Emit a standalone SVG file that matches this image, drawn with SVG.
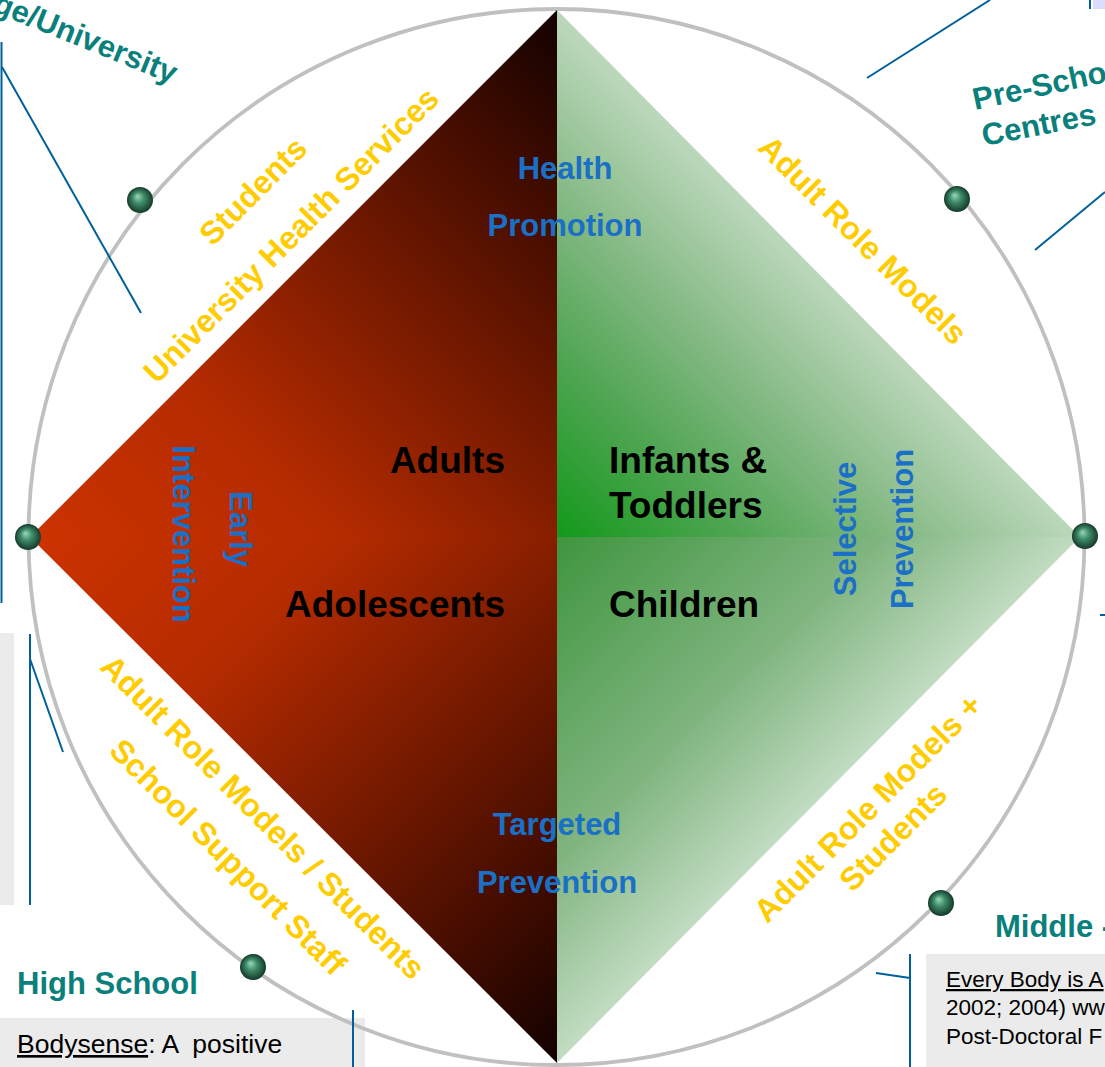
<svg xmlns="http://www.w3.org/2000/svg" width="1105" height="1067" viewBox="0 0 1105 1067">
<defs>
<style>
.y{font-family:"Liberation Sans",Arial,sans-serif;font-weight:bold;font-size:32px;fill:#ffcc00;text-anchor:middle;dominant-baseline:central}
.b{font-family:"Liberation Sans",Arial,sans-serif;font-weight:bold;font-size:31px;fill:#1a6fc6;text-anchor:middle}
.bv{font-family:"Liberation Sans",Arial,sans-serif;font-weight:bold;font-size:31px;fill:#1a6fc6;text-anchor:middle;dominant-baseline:central}
.k{font-family:"Liberation Sans",Arial,sans-serif;font-weight:bold;font-size:37px;fill:#000}
.t{font-family:"Liberation Sans",Arial,sans-serif;font-weight:bold;font-size:31px;fill:#0a807c}
.r{font-family:"Liberation Sans",Arial,sans-serif;font-size:22.5px;fill:#000}
.ln{stroke:#00609c;stroke-width:2;fill:none}
.ball{fill:url(#sph)}
</style>
<linearGradient id="redU" gradientUnits="userSpaceOnUse" x1="30" y1="537" x2="557" y2="10">
<stop offset="0" stop-color="#cc3300"/>
<stop offset="0.3" stop-color="#b42b00"/>
<stop offset="0.84" stop-color="#3a0a00"/>
<stop offset="1" stop-color="#120200"/>
</linearGradient>
<linearGradient id="redL" gradientUnits="userSpaceOnUse" x1="30" y1="537" x2="557" y2="1063">
<stop offset="0" stop-color="#cc3300"/>
<stop offset="0.3" stop-color="#b42b00"/>
<stop offset="0.84" stop-color="#3a0a00"/>
<stop offset="1" stop-color="#120200"/>
</linearGradient>
<linearGradient id="grU" gradientUnits="userSpaceOnUse" x1="557" y1="537" x2="820" y2="274">
<stop offset="0" stop-color="#12991a"/>
<stop offset="0.35" stop-color="#4fa552"/>
<stop offset="0.68" stop-color="#88bb88"/>
<stop offset="1" stop-color="#bcd8bc"/>
</linearGradient>
<linearGradient id="grL" gradientUnits="userSpaceOnUse" x1="557" y1="537" x2="820" y2="800">
<stop offset="0" stop-color="#3f953f"/>
<stop offset="0.62" stop-color="#80b580"/>
<stop offset="1" stop-color="#c2dcc2"/>
</linearGradient>
<radialGradient id="sph" cx="0.5" cy="0.5" r="0.5" fx="0.4" fy="0.35">
<stop offset="0" stop-color="#9ad8b8"/>
<stop offset="0.45" stop-color="#3c8a68"/>
<stop offset="1" stop-color="#17392b"/>
</radialGradient>
</defs>
<rect width="1105" height="1067" fill="#ffffff"/>

<g id="boxes">
<rect x="0" y="633" width="14" height="272" fill="#ebebeb"/>
<rect x="0" y="1018" width="365" height="49" fill="#ebebeb"/>
<rect x="926" y="954" width="179" height="113" fill="#ebebeb"/>
<rect x="1093" y="0" width="12" height="9" fill="#dcdcff"/>
</g>

<g id="ring">
<circle cx="556.5" cy="537" r="528" fill="none" stroke="#c0c0c0" stroke-width="3.8"/>
</g>

<g id="diamond">
<polygon points="557,10 30,537 557,537" fill="url(#redU)"/>
<polygon points="557,537 30,537 557,1063" fill="url(#redL)"/>
<polygon points="557,10 1080,537 557,537" fill="url(#grU)"/>
<polygon points="557,537 1080,537 557,1063" fill="url(#grL)"/>
</g>

<g id="connectors">
<line class="ln" x1="1.5" y1="42" x2="1.5" y2="603"/>
<line class="ln" x1="2" y1="67" x2="141" y2="313"/>
<line class="ln" x1="30" y1="634" x2="30" y2="905"/>
<line class="ln" x1="30" y1="659" x2="63" y2="752"/>
<line class="ln" x1="867" y1="78" x2="990" y2="0"/>
<line class="ln" x1="1035" y1="250" x2="1105" y2="192"/>
<line class="ln" x1="1090" y1="0" x2="1090" y2="9"/>
<line class="ln" x1="1100" y1="615" x2="1105" y2="615"/>
<line class="ln" x1="910" y1="954" x2="910" y2="1067"/>
<line class="ln" x1="876" y1="973" x2="910" y2="978"/>
<line class="ln" x1="353" y1="1010" x2="353" y2="1067"/>
</g>

<g id="spheres">
<circle class="ball" cx="140" cy="200" r="13"/>
<circle class="ball" cx="957" cy="199" r="13"/>
<circle class="ball" cx="28" cy="537" r="13"/>
<circle class="ball" cx="1085" cy="536" r="13"/>
<circle class="ball" cx="253" cy="967" r="13"/>
<circle class="ball" cx="941" cy="903" r="13"/>
</g>

<g id="node-health-promotion">
<text class="b" x="565" y="179">Health</text>
<text class="b" x="565" y="236">Promotion</text>
</g>
<g id="node-targeted-prevention">
<text class="b" x="557" y="835">Targeted</text>
<text class="b" x="557" y="893">Prevention</text>
</g>
<g id="node-selective-prevention">
<text class="bv" transform="translate(845,529) rotate(-90)">Selective</text>
<text class="bv" transform="translate(902,529) rotate(-90)">Prevention</text>
</g>
<g id="node-early-intervention">
<text class="bv" transform="translate(240,529) rotate(90)">Early</text>
<text class="bv" transform="translate(183,534) rotate(90)">Intervention</text>
</g>

<g id="node-adults"><text class="k" x="505" y="473" text-anchor="end">Adults</text></g>
<g id="node-adolescents"><text class="k" x="505" y="617" text-anchor="end">Adolescents</text></g>
<g id="node-infants"><text class="k" x="609" y="473">Infants &amp;</text><text class="k" x="609" y="518">Toddlers</text></g>
<g id="node-children"><text class="k" x="609" y="617">Children</text></g>

<g id="node-university-labels">
<text class="y" transform="translate(253,191) rotate(-45)">Students</text>
<text class="y" transform="translate(291,235) rotate(-45)">University Health Services</text>
</g>
<g id="node-preschool-labels">
<text class="y" transform="translate(863,240) rotate(45)">Adult Role Models</text>
</g>
<g id="node-highschool-labels">
<text class="y" transform="translate(263,817) rotate(45)">Adult Role Models / Students</text>
<text class="y" transform="translate(228,857) rotate(45)">School Support Staff</text>
</g>
<g id="node-middle-labels">
<text class="y" transform="translate(868,808) rotate(-45)">Adult Role Models +</text>
<text class="y" transform="translate(893,837) rotate(-45)">Students</text>
</g>

<g id="node-college">
<text class="t" text-anchor="end" transform="translate(172,84) rotate(22)">ge/University</text>
</g>
<g id="node-preschool">
<text class="t" transform="translate(975,110) rotate(-12)">Pre-Scho</text>
<text class="t" transform="translate(984,146) rotate(-11)">Centres</text>
</g>
<g id="node-middle">
<text class="t" x="995" y="937">Middle -</text>
<text class="r" x="946" y="987"><tspan text-decoration="underline">Every Body is A</tspan></text>
<text class="r" x="946" y="1015">2002; 2004) ww</text>
<text class="r" x="946" y="1044">Post-Doctoral F</text>
</g>
<g id="node-highschool">
<text class="t" x="17" y="994">High School</text>
<text class="r" x="17" y="1053" style="font-size:26.5px" xml:space="preserve"><tspan text-decoration="underline">Bodysense</tspan>: A  positive</text>
</g>
</svg>
